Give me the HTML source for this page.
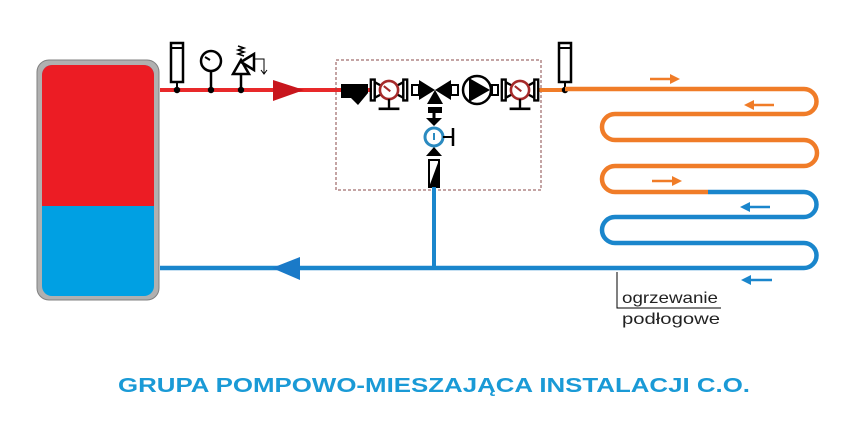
<!DOCTYPE html>
<html><head><meta charset="utf-8"><style>
html,body{margin:0;padding:0;background:#fff;width:853px;height:422px;overflow:hidden}
svg{display:block}
</style></head><body>
<svg width="853" height="422" viewBox="0 0 853 422" xmlns="http://www.w3.org/2000/svg">
<!-- tank -->
<rect x="37" y="60" width="122" height="240" rx="12" fill="#b0b0b0" stroke="#808080" stroke-width="1"/>
<rect x="42" y="65" width="112" height="231" rx="10" fill="#00a0e3"/>
<path d="M42 206 V75 a10 10 0 0 1 10 -10 H144 a10 10 0 0 1 10 10 V206 Z" fill="#ec1c24"/>
<!-- red supply -->
<line x1="160" y1="90" x2="345" y2="90" stroke="#e8292a" stroke-width="4"/>
<polygon points="273,80 304,90 273,101" fill="#c8161d"/>
<!-- vent -->
<rect x="171" y="43" width="12" height="39" fill="#fff" stroke="#000" stroke-width="2.5"/>
<line x1="171" y1="48" x2="183" y2="48" stroke="#000" stroke-width="2"/>
<line x1="177" y1="82" x2="177" y2="90" stroke="#000" stroke-width="2"/>
<circle cx="177" cy="90" r="3.2" fill="#000"/>
<!-- gauge -->
<circle cx="211" cy="61" r="10" fill="#fff" stroke="#000" stroke-width="2.5"/>
<line x1="205" y1="57" x2="210" y2="60" stroke="#000" stroke-width="2"/>
<line x1="211" y1="71" x2="211" y2="90" stroke="#000" stroke-width="2.5"/>
<circle cx="211" cy="90" r="3.2" fill="#000"/>
<!-- safety valve -->
<polygon points="241,60 233,74 249,74" fill="#fff" stroke="#000" stroke-width="2.5"/>
<polygon points="241,62 254,54 254,70" fill="#fff" stroke="#000" stroke-width="2.5"/>
<path d="M238 46 l6 2 l-6 2 l6 2 l-6 2 l6 2" fill="none" stroke="#000" stroke-width="1.5"/>
<path d="M254 59 H264 V73 M261 70 l3 4 l3 -4" fill="none" stroke="#000" stroke-width="1"/>
<line x1="241" y1="74" x2="241" y2="90" stroke="#000" stroke-width="2.5"/>
<circle cx="241" cy="90" r="3.2" fill="#000"/>
<!-- dashed box -->
<rect x="336" y="60" width="205" height="130" fill="none" stroke="#8a4a4a" stroke-width="1" stroke-dasharray="3,2"/>
<!-- pipe through box -->
<line x1="345" y1="90" x2="372" y2="90" stroke="#e8292a" stroke-width="4"/>
<line x1="537" y1="90" x2="565" y2="90" stroke="#f07c28" stroke-width="4"/>
<!-- filter -->
<polygon points="341,84 368,84 368,93 358,105 351,98 341,98" fill="#000"/>
<!-- valve 1 -->
<g transform="translate(389,90) scale(1.3)">
<path d="M-14 -8 L-11 -8 L-11 8 L-14 8 Z M14 -8 L11 -8 L11 8 L14 8 Z" fill="none" stroke="#000" stroke-width="1.8"/>
<polygon points="-11,-6 0,0 -11,6" fill="none" stroke="#000" stroke-width="1.8"/>
<polygon points="11,-6 0,0 11,6" fill="none" stroke="#000" stroke-width="1.8"/>
<circle r="7" fill="#fff" stroke="#a52a2a" stroke-width="2"/>
<line x1="-4" y1="-3" x2="1" y2="1" stroke="#a52a2a" stroke-width="1.6"/>
<line x1="0" y1="7" x2="0" y2="14" stroke="#000" stroke-width="1.8"/>
<line x1="-8" y1="14.5" x2="8" y2="14.5" stroke="#000" stroke-width="2"/>
</g>
<!-- mixing valve -->
<rect x="412" y="85" width="7" height="10" fill="none" stroke="#000" stroke-width="2"/>
<polygon points="419,80 435,90 419,100" fill="#000"/>
<polygon points="451,80 435,90 451,100" fill="#000"/>
<polygon points="427,104 435,90 443,104" fill="#000"/>
<rect x="451" y="85" width="7" height="10" fill="none" stroke="#000" stroke-width="2"/>
<rect x="428" y="107" width="14" height="6" fill="#000"/>
<!-- pump -->
<circle cx="477" cy="90" r="14" fill="#fff" stroke="#000" stroke-width="2.5"/>
<polygon points="469,78 490,90 469,102" fill="#000"/>
<rect x="492" y="85" width="6" height="10" fill="none" stroke="#000" stroke-width="2"/>
<!-- valve 2 -->
<g transform="translate(520,90) scale(1.3)">
<path d="M-14 -8 L-11 -8 L-11 8 L-14 8 Z M14 -8 L11 -8 L11 8 L14 8 Z" fill="none" stroke="#000" stroke-width="1.8"/>
<polygon points="-11,-6 0,0 -11,6" fill="none" stroke="#000" stroke-width="1.8"/>
<polygon points="11,-6 0,0 11,6" fill="none" stroke="#000" stroke-width="1.8"/>
<circle r="7" fill="#fff" stroke="#a52a2a" stroke-width="2"/>
<line x1="-4" y1="-3" x2="1" y2="1" stroke="#a52a2a" stroke-width="1.6"/>
<line x1="0" y1="7" x2="0" y2="14" stroke="#000" stroke-width="1.8"/>
<line x1="-8" y1="14.5" x2="8" y2="14.5" stroke="#000" stroke-width="2"/>
</g>
<!-- bypass valve -->
<line x1="434" y1="113" x2="434" y2="122" stroke="#000" stroke-width="3"/>
<polygon points="426,118 434,126 442,118" fill="#000"/>
<circle cx="434" cy="137" r="9" fill="#fff" stroke="#2a8ac0" stroke-width="3"/>
<line x1="434" y1="133" x2="434" y2="140" stroke="#2a8ac0" stroke-width="2"/>
<line x1="443" y1="137" x2="453" y2="137" stroke="#000" stroke-width="2"/>
<line x1="453" y1="128" x2="453" y2="146" stroke="#000" stroke-width="2.5"/>
<polygon points="426,156 434,147 442,156" fill="#000"/>
<rect x="429" y="160" width="10" height="27" fill="#fff" stroke="#000" stroke-width="2"/>
<polygon points="439,160 439,187 429,187" fill="#000"/>
<!-- blue vertical -->
<line x1="434" y1="187" x2="434" y2="268" stroke="#1a86cc" stroke-width="4"/>
<!-- vent 2 -->
<rect x="559" y="43" width="12" height="39" fill="#fff" stroke="#000" stroke-width="2.5"/>
<line x1="559" y1="48" x2="571" y2="48" stroke="#000" stroke-width="2"/>
<line x1="565" y1="82" x2="565" y2="90" stroke="#000" stroke-width="2"/>
<circle cx="565" cy="90" r="3.2" fill="#000"/>
<!-- serpentine -->
<path d="M565 89 H804 a12.5 12.5 0 0 1 0 25 H615 a13 13 0 0 0 0 26 H804 a13 13 0 0 1 0 26 H615 a13 13 0 0 0 0 26 H708" fill="none" stroke="#f07c28" stroke-width="4.5"/>
<path d="M708 192 H804 a12.5 12.5 0 0 1 0 25 H615 a13 13 0 0 0 0 26 H804 a12.5 12.5 0 0 1 0 25 H160" fill="none" stroke="#1a86cc" stroke-width="4.5"/>
<polygon points="300,257 272,268 300,280" fill="#1a7ac8"/>
<!-- flow arrows -->
<g stroke-width="2.5">
<line x1="650" y1="79" x2="674" y2="79" stroke="#f07c28"/><polygon points="670,74 680,79 670,84" fill="#f07c28"/>
<line x1="750" y1="105" x2="774" y2="105" stroke="#f07c28"/><polygon points="744,105 754,100 754,110" fill="#f07c28"/>
<line x1="652" y1="181" x2="676" y2="181" stroke="#f07c28"/><polygon points="672,176 682,181 672,186" fill="#f07c28"/>
<line x1="746" y1="207" x2="770" y2="207" stroke="#1a86cc"/><polygon points="740,207 750,202 750,212" fill="#1a86cc"/>
<line x1="748" y1="280" x2="772" y2="280" stroke="#1a86cc"/><polygon points="741,280 751,275 751,285" fill="#1a86cc"/>
</g>
<!-- label -->
<path d="M617 272 V308 H721" fill="none" stroke="#000" stroke-width="1"/>
<text x="622" y="303" font-family="'Liberation Sans',sans-serif" font-size="16" fill="#222" textLength="96" lengthAdjust="spacingAndGlyphs">ogrzewanie</text>
<text x="622" y="324" font-family="'Liberation Sans',sans-serif" font-size="16" fill="#222" textLength="98" lengthAdjust="spacingAndGlyphs">podłogowe</text>
<text x="434" y="392" text-anchor="middle" font-family="'Liberation Sans',sans-serif" font-weight="bold" font-size="20" fill="#1a9ad6" textLength="632" lengthAdjust="spacingAndGlyphs">GRUPA POMPOWO-MIESZAJĄCA INSTALACJI C.O.</text>
</svg>
</body></html>
